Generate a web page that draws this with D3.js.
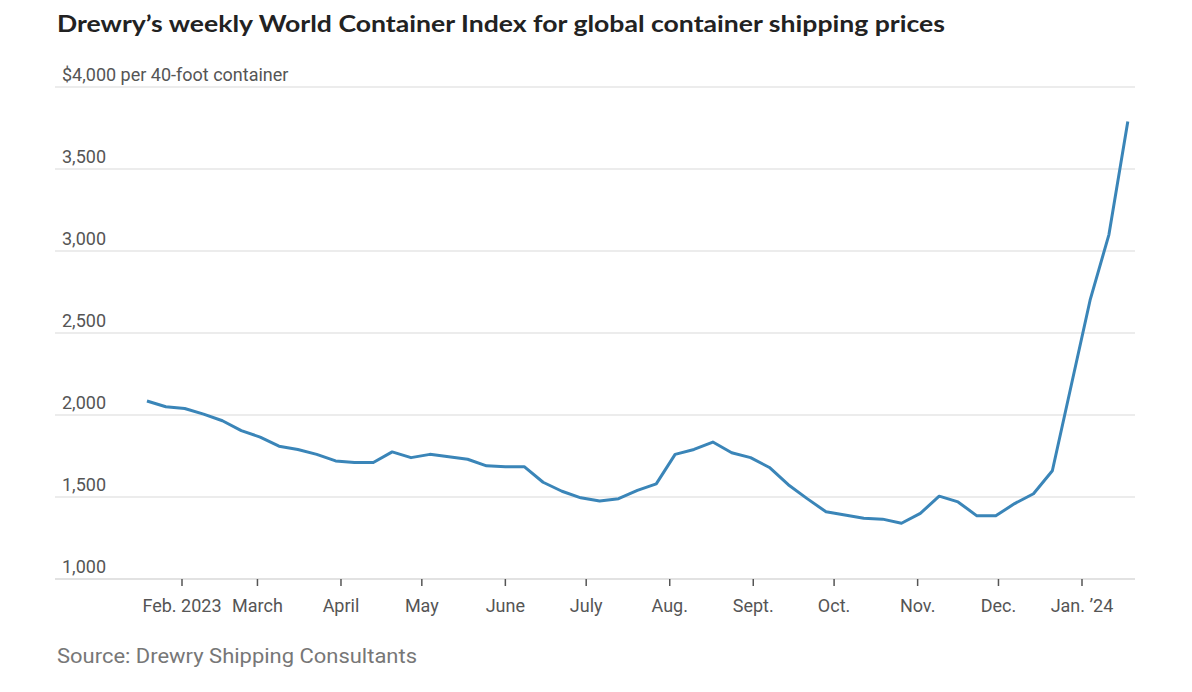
<!DOCTYPE html>
<html><head><meta charset="utf-8">
<script src="https://cdn.jsdelivr.net/npm/d3@7"></script>
<style>body{margin:0;background:#fff}</style></head>
<body><svg id="c" width="1192" height="692"></svg>
<script>
const startDate = "2023-01-19";
const values = [2085,2050,2040,2005,1965,1905,1865,1810,1790,1760,1720,1710,1710,1775,1740,1760,1745,1730,1690,1685,1685,1590,1535,1495,1475,1490,1540,1580,1760,1790,1835,1770,1740,1680,1575,1490,1410,1390,1370,1365,1340,1400,1505,1470,1385,1385,1460,1520,1660,2180,2700,3100,3790];
const yTicks = [1000,1500,2000,2500,3000,3500,4000];
const monthTicks = ["2023-02-01","2023-03-01","2023-04-01","2023-05-01","2023-06-01","2023-07-01","2023-08-01","2023-09-01","2023-10-01","2023-11-01","2023-12-01","2024-01-01"];
const monthLabels = ["Feb. 2023","March","April","May","June","July","Aug.","Sept.","Oct.","Nov.","Dec.","Jan. \u201924"];

const parse = d3.utcParse("%Y-%m-%d");
const t0 = parse(startDate);
const data = values.map((v,i)=>({d:d3.utcDay.offset(t0,i*7),v}));
const svg = d3.select("#c");
const x = d3.scaleUtc().domain([parse("2023-02-01"),parse("2024-01-01")]).range([182,1082]);
const y = d3.scaleLinear().domain([1000,4000]).range([579,87]);
const font = "'Liberation Sans Narrow', 'Roboto', sans-serif";

svg.append("text").attr("x",57).attr("y",32).attr("font-family","Lato, sans-serif").attr("font-weight",700)
  .attr("font-size",22).attr("fill","#222").attr("textLength",888).attr("lengthAdjust","spacingAndGlyphs")
  .text("Drewry\u2019s weekly World Container Index for global container shipping prices");

const g = svg.append("g");
yTicks.forEach(t=>{
  g.append("line").attr("x1",55).attr("x2",1135).attr("y1",y(t)).attr("y2",y(t))
   .attr("stroke", t===1000?"#e2e2e2":"#ececec").attr("stroke-width",2);
  g.append("text").attr("x",62).attr("y",y(t)-6).attr("font-family",font).attr("font-size",18).attr("fill","#555")
   .text(t===4000?"$4,000 per 40-foot container":d3.format(",")(t));
});
monthTicks.forEach((m,i)=>{
  const xx=x(parse(m));
  g.append("line").attr("x1",xx).attr("x2",xx).attr("y1",579).attr("y2",586).attr("stroke","#555").attr("stroke-width",1.5);
  g.append("text").attr("x",xx).attr("y",612).attr("text-anchor","middle").attr("font-family",font).attr("font-size",18).attr("fill","#555").text(monthLabels[i]);
});
g.append("path").datum(data).attr("fill","none").attr("stroke","#3a85b8").attr("stroke-width",3).attr("stroke-linejoin","round")
  .attr("d",d3.line().x(d=>x(d.d)).y(d=>y(d.v)));
svg.append("text").attr("x",57).attr("y",663).attr("font-family",font).attr("font-size",20).attr("fill","#777")
  .attr("textLength",360).attr("lengthAdjust","spacingAndGlyphs").text("Source: Drewry Shipping Consultants");
</script></body></html>
